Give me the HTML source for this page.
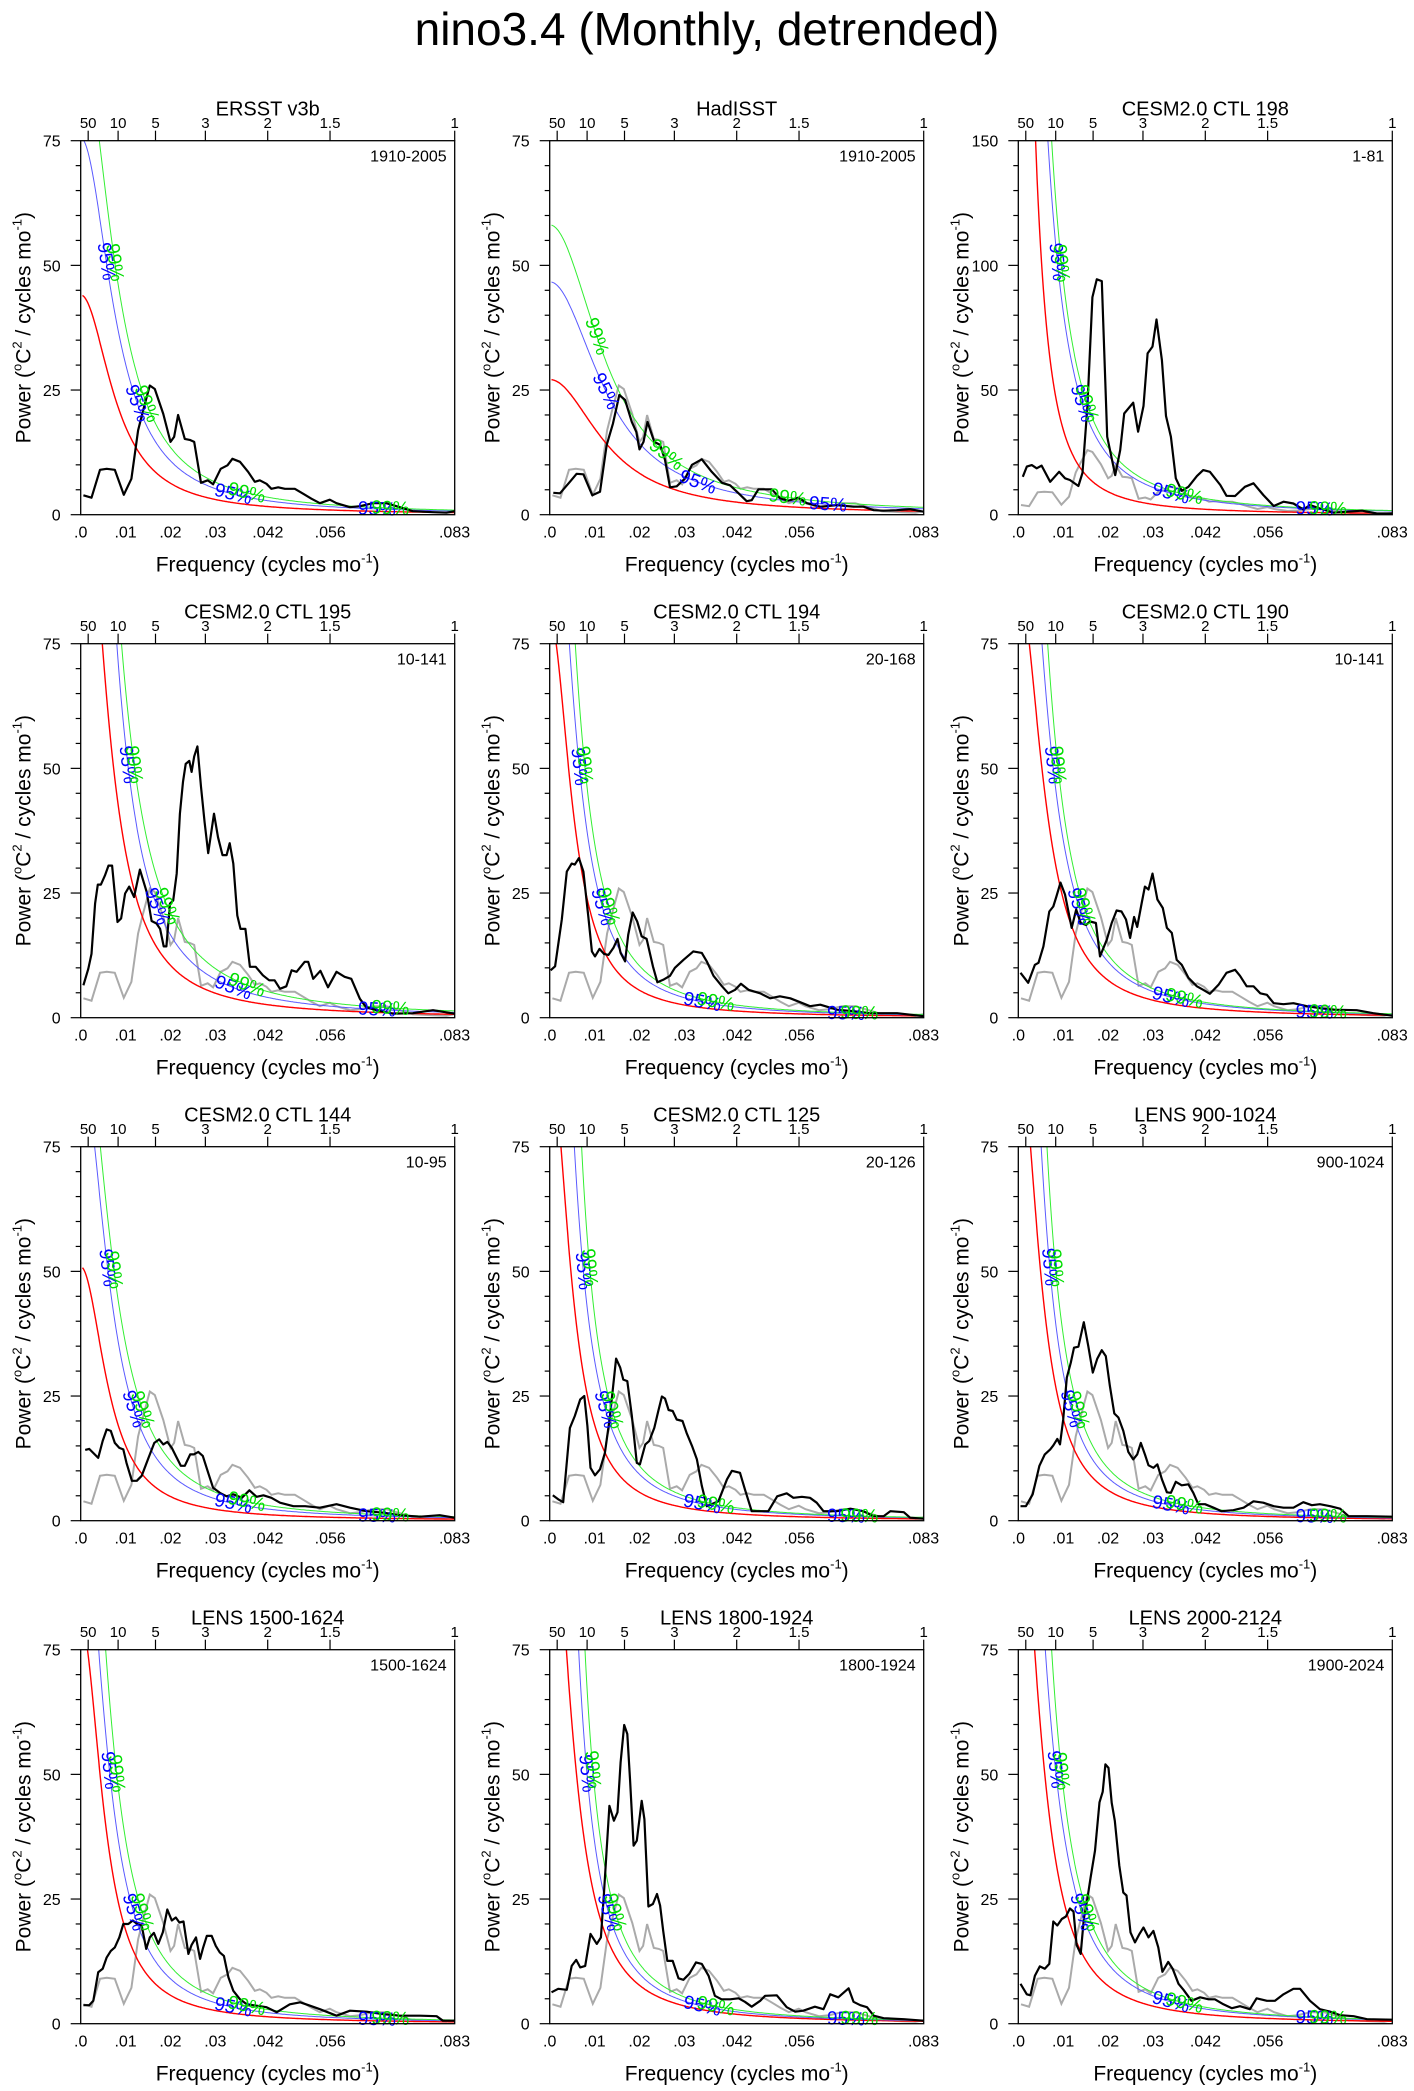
<!DOCTYPE html>
<html><head><meta charset="utf-8">
<style>
html,body{margin:0;padding:0;background:#fff;}
svg{display:block;font-family:"Liberation Sans",sans-serif;}
</style></head>
<body>
<svg id="fig" width="1414" height="2091" viewBox="0 0 1414 2091" xmlns="http://www.w3.org/2000/svg">
<rect x="0" y="0" width="1414" height="2091" fill="#fff"/>
<text x="707" y="45" font-size="46" text-anchor="middle">nino3.4 (Monthly, detrended)</text>
</svg>
<script>
// ---- data ----
const titles=["ERSST v3b","HadISST","CESM2.0 CTL 198","CESM2.0 CTL 195","CESM2.0 CTL 194","CESM2.0 CTL 190","CESM2.0 CTL 144","CESM2.0 CTL 125","LENS 900-1024","LENS 1500-1624","LENS 1800-1924","LENS 2000-2124"];
const periodsLabel=["1910-2005","1910-2005","1-81","10-141","20-168","10-141","10-95","20-126","900-1024","1500-1624","1800-1924","1900-2024"];
const yMax=[75,75,150,75,75,75,75,75,75,75,75,75];
const xTickVals=[0,0.01,0.02,0.03,0.0417,0.0556,0.0833];
const xTickLabels=[".0",".01",".02",".03",".042",".056",".083"];
const topPeriods=[50,10,5,3,2,1.5,1];
const topPeriodLabels=["50","10","5","3","2","1.5","1"];

const freq1=[0.0006,0.0024,0.0043,0.0058,0.0076,0.0096,0.0113,0.0128,0.0139,0.0154,0.0165,0.0184,0.0200,0.0208,0.0217,0.0232,0.0243,0.0253,0.0268,0.0283,0.0295,0.0312,0.0327,0.0338,0.0355,0.0373,0.0388,0.0399,0.0414,0.0425,0.0440,0.0455,0.0477,0.0496,0.0514,0.0533,0.0555,0.0570,0.0600,0.0622,0.0651,0.0681,0.0711,0.0740,0.0785,0.0815,0.0833];
const pow1=[3.9,3.4,9.0,9.2,9.0,4.0,7.2,16.9,20.9,25.9,25.2,20.2,14.6,15.6,20.0,15.2,15.0,14.6,6.4,6.9,6.1,9.2,9.9,11.2,10.6,8.6,6.6,6.9,6.2,5.2,5.5,5.2,5.2,4.2,3.2,2.3,3.0,2.3,1.5,1.7,2.3,2.3,1.5,0.7,0.5,0.4,0.7];

const freq2=[0.0008,0.0023,0.0045,0.0060,0.0075,0.0095,0.0112,0.0127,0.0141,0.0155,0.0168,0.0183,0.0193,0.0200,0.0209,0.0218,0.0233,0.0246,0.0257,0.0268,0.0283,0.0302,0.0317,0.0339,0.0361,0.0384,0.0402,0.0421,0.0439,0.0450,0.0465,0.0476,0.0495,0.0513,0.0532,0.0554,0.0573,0.0603,0.0640,0.0677,0.0699,0.0722,0.0744,0.0773,0.0803,0.0833];
const pow2=[4.4,4.3,6.6,8.2,8.1,3.9,4.6,14.0,18.3,24.0,23.0,18.6,16.6,13.1,14.6,18.6,14.6,14.0,11.0,5.5,5.7,7.3,10.0,11.1,8.6,6.4,5.9,4.3,2.7,2.9,5.1,5.1,5.1,3.3,2.8,3.4,2.3,1.6,1.9,1.6,1.6,0.9,0.8,0.9,1.1,0.6];

const freq3=[0.0010,0.0019,0.0030,0.0041,0.0052,0.0071,0.0091,0.0104,0.0115,0.0134,0.0143,0.0154,0.0165,0.0175,0.0186,0.0198,0.0216,0.0227,0.0236,0.0256,0.0267,0.0279,0.0288,0.0299,0.0308,0.0320,0.0329,0.0340,0.0351,0.0364,0.0379,0.0398,0.0412,0.0427,0.0450,0.0464,0.0483,0.0505,0.0524,0.0546,0.0569,0.0591,0.0613,0.0635,0.0650,0.0672,0.0702,0.0732,0.0766,0.0799,0.0833];
const pow3=[15.2,19.3,19.9,18.6,19.7,13.2,17.2,14.6,13.9,11.5,16.8,43.3,87.2,94.4,93.7,31.3,15.9,25.9,40.6,44.9,33.3,43.6,64.7,67.4,78.3,62.0,39.6,31.3,14.6,9.6,11.2,15.5,17.9,17.2,11.9,7.6,7.5,11.2,12.6,7.9,3.5,5.2,4.5,2.1,3.9,2.5,0.8,1.2,1.6,0.5,0.5];

const freq4=[0.0006,0.0017,0.0024,0.0032,0.0038,0.0045,0.0054,0.0062,0.0070,0.0082,0.0090,0.0099,0.0108,0.0119,0.0132,0.0147,0.0158,0.0169,0.0177,0.0185,0.0191,0.0199,0.0206,0.0214,0.0221,0.0228,0.0234,0.0242,0.0247,0.0253,0.0260,0.0268,0.0276,0.0284,0.0297,0.0306,0.0316,0.0325,0.0332,0.0340,0.0349,0.0356,0.0367,0.0377,0.0390,0.0406,0.0420,0.0432,0.0444,0.0458,0.0470,0.0481,0.0499,0.0507,0.0518,0.0534,0.0551,0.0570,0.0588,0.0603,0.0622,0.0636,0.0659,0.0696,0.0740,0.0785,0.0833];
const pow4=[6.5,9.8,12.8,22.9,26.7,26.7,28.5,30.5,30.5,19.2,19.9,24.9,26.3,24.2,29.7,25.2,19.4,18.9,17.8,14.3,14.3,22.9,23.5,28.9,40.9,47.3,50.9,51.5,49.3,52.4,54.4,46.3,39.2,33.0,40.9,36.2,32.6,32.6,35.0,30.9,20.5,17.8,17.8,10.2,10.2,8.5,7.5,7.5,5.8,6.3,9.5,9.2,11.2,11.2,7.8,9.4,6.1,9.2,8.2,7.8,3.8,2.1,1.5,0.8,0.9,1.5,0.8];

const freq5=[0.0002,0.0012,0.0027,0.0038,0.0049,0.0056,0.0065,0.0075,0.0086,0.0094,0.0101,0.0111,0.0121,0.0131,0.0142,0.0151,0.0158,0.0168,0.0175,0.0185,0.0195,0.0205,0.0216,0.0230,0.0240,0.0253,0.0268,0.0279,0.0298,0.0320,0.0339,0.0350,0.0365,0.0384,0.0398,0.0413,0.0426,0.0443,0.0469,0.0491,0.0513,0.0536,0.0558,0.0580,0.0603,0.0640,0.0677,0.0714,0.0774,0.0833];
const pow5=[9.5,10.3,19.7,29.3,30.9,30.7,32.0,29.3,20.3,13.3,12.3,13.8,12.8,12.6,14.0,15.8,13.0,11.3,16.6,21.1,19.3,16.3,15.8,10.3,7.1,7.6,8.4,10.0,11.6,13.3,13.0,11.3,8.4,6.3,4.9,5.6,6.8,5.6,4.9,3.9,4.3,3.9,3.1,2.3,2.6,1.6,1.3,0.9,0.9,0.3];

const freq6=[0.0005,0.0022,0.0037,0.0045,0.0056,0.0069,0.0078,0.0085,0.0094,0.0104,0.0119,0.0129,0.0139,0.0151,0.0160,0.0173,0.0182,0.0197,0.0208,0.0219,0.0230,0.0240,0.0249,0.0258,0.0265,0.0275,0.0282,0.0290,0.0299,0.0310,0.0322,0.0331,0.0342,0.0353,0.0364,0.0379,0.0398,0.0412,0.0427,0.0446,0.0464,0.0483,0.0494,0.0509,0.0524,0.0539,0.0554,0.0569,0.0591,0.0613,0.0643,0.0672,0.0702,0.0754,0.0791,0.0833];
const pow6=[9.0,7.0,10.6,11.0,14.3,21.3,22.3,24.3,27.1,24.7,18.0,21.7,19.0,18.6,19.3,19.0,12.3,15.6,19.0,21.5,21.3,19.7,16.0,20.2,18.2,23.0,26.3,25.7,28.9,23.7,22.0,18.0,17.0,11.6,10.6,8.0,6.3,5.6,4.8,6.6,9.0,9.6,8.4,6.3,6.3,4.9,4.6,2.9,2.7,2.9,2.3,1.9,1.6,1.5,0.9,0.4];

const freq7=[0.0010,0.0019,0.0039,0.0049,0.0058,0.0067,0.0076,0.0086,0.0095,0.0102,0.0114,0.0125,0.0136,0.0151,0.0164,0.0175,0.0184,0.0193,0.0203,0.0212,0.0223,0.0232,0.0244,0.0252,0.0262,0.0272,0.0284,0.0295,0.0310,0.0325,0.0340,0.0359,0.0376,0.0392,0.0407,0.0425,0.0444,0.0474,0.0500,0.0533,0.0570,0.0600,0.0637,0.0675,0.0712,0.0756,0.0800,0.0833];
const pow7=[14.2,14.4,12.6,16.0,18.3,18.0,15.6,14.6,14.3,11.6,8.0,8.0,9.0,12.6,15.6,16.3,15.3,15.8,14.6,13.0,11.0,11.0,13.3,13.3,13.8,13.0,9.6,6.6,5.6,4.9,5.3,4.6,6.1,4.8,5.1,4.6,3.6,2.9,2.9,2.6,3.3,2.6,1.9,1.6,1.1,0.8,1.1,0.6];

const freq8=[0.0007,0.0019,0.0030,0.0045,0.0056,0.0068,0.0077,0.0084,0.0091,0.0101,0.0112,0.0123,0.0134,0.0148,0.0157,0.0164,0.0173,0.0183,0.0194,0.0201,0.0213,0.0222,0.0233,0.0242,0.0250,0.0257,0.0265,0.0274,0.0283,0.0296,0.0305,0.0317,0.0328,0.0339,0.0350,0.0361,0.0376,0.0395,0.0406,0.0424,0.0435,0.0450,0.0469,0.0487,0.0507,0.0528,0.0543,0.0562,0.0580,0.0595,0.0610,0.0640,0.0670,0.0699,0.0722,0.0744,0.0759,0.0789,0.0803,0.0833];
const pow8=[5.1,4.3,3.7,18.6,21.0,24.3,25.0,19.0,10.6,9.1,10.3,13.6,20.7,32.5,30.7,28.3,28.0,21.1,11.6,11.3,15.3,16.0,18.6,22.0,24.9,24.5,22.2,22.0,20.3,20.0,17.6,15.0,12.3,7.0,2.9,3.3,3.9,8.3,10.0,9.6,6.3,1.9,1.9,1.9,4.9,5.5,4.6,4.8,4.6,3.6,1.9,1.9,2.4,1.9,0.9,0.9,1.9,1.7,0.6,0.4];

const freq9=[0.0005,0.0017,0.0032,0.0047,0.0059,0.0071,0.0078,0.0087,0.0093,0.0100,0.0108,0.0117,0.0124,0.0134,0.0146,0.0156,0.0166,0.0176,0.0186,0.0195,0.0204,0.0214,0.0223,0.0234,0.0245,0.0256,0.0265,0.0273,0.0282,0.0290,0.0301,0.0310,0.0320,0.0331,0.0340,0.0351,0.0364,0.0379,0.0390,0.0401,0.0416,0.0435,0.0453,0.0479,0.0502,0.0524,0.0546,0.0569,0.0591,0.0613,0.0635,0.0654,0.0672,0.0695,0.0717,0.0736,0.0777,0.0833];
const pow9=[2.9,2.9,5.3,11.0,13.3,14.3,15.1,16.4,15.3,20.3,28.7,31.7,34.7,34.9,39.8,35.0,29.7,32.5,34.2,33.0,27.0,21.5,20.7,18.0,13.8,12.3,13.3,15.6,13.3,11.1,10.6,11.3,8.3,5.7,5.6,7.8,7.1,7.3,5.6,3.3,3.3,2.6,1.9,2.1,2.6,3.9,3.6,2.9,2.6,2.6,3.7,3.1,3.3,2.9,2.4,0.9,0.9,0.8];

const freq10=[0.0006,0.0019,0.0028,0.0039,0.0049,0.0058,0.0067,0.0076,0.0086,0.0095,0.0106,0.0116,0.0126,0.0136,0.0146,0.0154,0.0163,0.0173,0.0183,0.0193,0.0203,0.0212,0.0220,0.0229,0.0240,0.0247,0.0257,0.0266,0.0273,0.0281,0.0292,0.0301,0.0310,0.0319,0.0329,0.0340,0.0355,0.0370,0.0392,0.0414,0.0437,0.0466,0.0489,0.0511,0.0533,0.0570,0.0600,0.0637,0.0675,0.0711,0.0756,0.0793,0.0807,0.0833];
const pow10=[3.7,3.7,4.6,10.3,11.0,13.3,14.6,15.3,17.3,20.0,20.0,20.7,20.0,19.7,15.0,17.3,18.2,16.0,18.3,22.9,20.7,21.3,20.3,20.5,14.0,15.8,17.3,13.0,15.3,17.6,17.6,15.6,14.3,13.6,9.3,6.6,4.9,3.9,3.6,3.3,2.3,3.9,4.3,3.6,2.9,1.6,2.6,2.4,1.9,1.6,1.6,1.5,0.6,0.6];

const freq11=[0.0004,0.0019,0.0038,0.0049,0.0059,0.0068,0.0079,0.0091,0.0105,0.0114,0.0121,0.0133,0.0143,0.0151,0.0158,0.0166,0.0173,0.0179,0.0187,0.0194,0.0205,0.0211,0.0220,0.0230,0.0239,0.0246,0.0253,0.0262,0.0274,0.0287,0.0298,0.0311,0.0326,0.0339,0.0354,0.0368,0.0383,0.0402,0.0421,0.0435,0.0450,0.0469,0.0480,0.0506,0.0528,0.0547,0.0565,0.0591,0.0610,0.0625,0.0643,0.0666,0.0677,0.0692,0.0707,0.0722,0.0744,0.0789,0.0833];
const pow11=[6.3,7.0,6.8,11.6,12.8,11.3,11.6,18.0,16.0,17.3,26.3,43.7,40.7,42.4,52.4,59.9,58.1,49.1,35.7,36.7,44.7,41.0,23.5,24.0,26.0,23.7,18.6,12.6,12.6,9.1,8.8,10.0,12.3,12.0,9.6,5.6,4.9,4.9,5.1,4.4,3.4,4.6,5.6,5.7,3.3,2.4,2.6,3.4,2.9,5.9,5.3,7.1,4.4,3.7,3.3,1.6,1.1,0.9,0.6];

const freq12=[0.0005,0.0019,0.0027,0.0037,0.0048,0.0059,0.0069,0.0078,0.0087,0.0097,0.0106,0.0115,0.0123,0.0130,0.0139,0.0146,0.0154,0.0161,0.0171,0.0181,0.0188,0.0194,0.0201,0.0208,0.0215,0.0225,0.0234,0.0241,0.0250,0.0260,0.0270,0.0279,0.0290,0.0301,0.0312,0.0321,0.0334,0.0344,0.0357,0.0368,0.0386,0.0405,0.0424,0.0438,0.0457,0.0476,0.0494,0.0516,0.0531,0.0554,0.0572,0.0591,0.0613,0.0628,0.0650,0.0672,0.0695,0.0717,0.0747,0.0777,0.0833];
const pow12=[8.0,5.9,5.7,9.6,11.5,11.0,12.0,20.5,19.7,21.0,21.5,23.1,22.5,15.8,14.0,21.0,25.1,29.3,34.7,44.4,46.5,52.0,51.3,44.3,40.7,31.7,26.3,25.7,18.3,16.3,18.0,19.3,17.3,18.6,15.3,10.4,12.4,11.0,8.0,6.8,4.6,5.3,4.9,4.9,3.9,3.1,3.5,2.9,5.1,4.6,4.6,5.9,7.0,7.0,4.6,2.9,2.4,1.7,1.5,0.9,0.8];

// red-noise (Markov) curve parameters: shape constant and value at f=0.02
const redC=[0.00263,0.00696,0.00041,0.0015,0.00116,0.00149,0.00166,0.00103,0.00108,0.0012,0.0012,0.0012];
const redS20=[6.3,8.3,9.2,10.5,5.5,7.5,4.85,5.7,6.1,5.7,7.7,7.6];
const blueC=[0.00263,0.00696,0.00093,0.0012,0.0012,0.00147,0.0018,0.00087,0.00088,0.00143,0.00053,0.0013];
const blueS20=[10.8,14.3,23.8,16.6,8.66,11.2,9.3,9.3,8.6,9.0,10,12];
const greenC=[0.00263,0.00696,0.0008,0.0016,0.00105,0.00115,0.0021,0.00037,0.00069,0.00141,0.0001,0.00086];
const greenS20=[13.5,17.8,27,21,10.4,12.6,12,11,10.5,11.5,12,13.7];

const freqs=[freq1,freq2,freq3,freq4,freq5,freq6,freq7,freq8,freq9,freq10,freq11,freq12];
const pows=[pow1,pow2,pow3,pow4,pow5,pow6,pow7,pow8,pow9,pow10,pow11,pow12];
const grayFreq=freq1, grayPow=pow1;

// ---- drawing ----
const NS="http://www.w3.org/2000/svg";
const svg=document.getElementById('fig');
const colLeft=[80.7,549.7,1018.3], rowTop=[140.7,643.7,1146.7,1649.7];
const W=374,H=374,FMAX=1/12;
function mk(tag,attrs,parent){const e=document.createElementNS(NS,tag);for(const k in attrs)e.setAttribute(k,attrs[k]);(parent||svg).appendChild(e);return e;}
function markov(c,s20,f){const D=c+2*(1-Math.cos(2*Math.PI*f));const D20=c+2*(1-Math.cos(2*Math.PI*0.02));return s20*D20/D;}

for(let p=0;p<12;p++){
  const L=colLeft[p%3],T=rowTop[Math.floor(p/3)],B=T+H,R=L+W,ym=yMax[p];
  const xs=f=>L+f/FMAX*W, ys=v=>B-v/ym*H;
  const g=mk('g',{});
  
  
  const cp=mk('clipPath',{id:'clip'+p},g);
  mk('rect',{x:L,y:T,width:W,height:H},cp);
  const plot=mk('g',{'clip-path':'url(#clip'+p+')'},g);
  
  
  if(p>0){
    const gp=mk('path',{d:grayFreq.map((f,i)=>(i?'L':'M')+xs(f).toFixed(1)+','+ys(grayPow[i]).toFixed(1)).join(''),fill:'none',stroke:'#aaaaaa','stroke-width':2},plot);
    
    
  }
  const curves=[[redC,redS20,'#ff0000',1.4,'red-noise-curve'],[blueC,blueS20,'#5a5aff',1,'confidence-95-curve'],[greenC,greenS20,'#33ee33',1,'confidence-99-curve']];
  curves.forEach(([C,S,col,sw,nm])=>{
    let d='';for(let f=0.0004;f<=FMAX+1e-9;f+=0.0002){const v=Math.min(markov(C[p],S[p],f),ym*1.5);d+=(d?'L':'M')+xs(f).toFixed(1)+','+ys(v).toFixed(1);}
    const e=mk('path',{d:d,fill:'none',stroke:col,'stroke-width':sw},plot);
    
    
  });
  const bp=mk('path',{d:freqs[p].map((f,i)=>(i?'L':'M')+xs(f).toFixed(1)+','+ys(pows[p][i]).toFixed(1)).join(''),fill:'none',stroke:'#000','stroke-width':2.2,'stroke-linejoin':'round'},plot);
  
  
  [[blueC,blueS20,'#0000ff','95%',[0.034,0.066]],[greenC,greenS20,'#00dd00','99%',[0.037,0.069]]].forEach(([C,S,col,txt,fx],k)=>{
    const targets=p==1?[]:[ym*0.68,ym*0.3];
    const fl=[];
    targets.forEach(tv=>{for(let f=0.0004;f<FMAX;f+=0.0001){if(markov(C[p],S[p],f)<=tv){fl.push(f);break;}}});
    fx.forEach(f=>fl.push(f));
    if(p==1){fl.length=0;(k==0?[0.0125,0.033,0.062]:[0.0105,0.026,0.053]).forEach(f=>fl.push(f));}
    fl.forEach(f=>{
      const x=xs(f),y=ys(markov(C[p],S[p],f));
      const x2=xs(f+0.0003),y2=ys(markov(C[p],S[p],f+0.0003));
      const ang=Math.atan2(y2-y,x2-x)*180/Math.PI;
      const t=mk('text',{x:x,y:y+6,'font-size':19,fill:col,'text-anchor':'middle',transform:'rotate('+ang.toFixed(1)+' '+x.toFixed(1)+' '+y.toFixed(1)+')'},g);
      t.textContent=txt;
      
      
    });
  });
  const fr=mk('rect',{x:L,y:T,width:W,height:H,fill:'none',stroke:'#000','stroke-width':1.3},g);
  
  
  const major=ym/3,minor=ym/15;
  for(let v=0;v<=ym+1e-6;v+=minor){
    const isM=Math.abs(v/major-Math.round(v/major))<1e-6;
    const tk=mk('line',{x1:L,x2:L-(isM?10:5),y1:ys(v),y2:ys(v),stroke:'#000','stroke-width':1.2},g);
    
    
    if(isM){const t=mk('text',{x:L-20,y:ys(v)+6,'font-size':16,'text-anchor':'end'},g);t.textContent=String(Math.round(v));
      
      }
  }
  xTickVals.forEach((f,i)=>{
    const t=mk('text',{x:xs(f),y:B+23,'font-size':16,'text-anchor':'middle'},g);t.textContent=xTickLabels[i];
    
    
  });
  topPeriods.forEach((pr,i)=>{
    const x=xs(1/(12*pr));
    const tk=mk('line',{x1:x,x2:x,y1:T,y2:T-10,stroke:'#000','stroke-width':1.2},g);
    
    
    const t=mk('text',{x:x,y:T-12.5,'font-size':15,'text-anchor':'middle'},g);t.textContent=topPeriodLabels[i];
    
    
  });
  const tt=mk('text',{x:L+W/2,y:T-25,'font-size':20,'text-anchor':'middle'},g);tt.textContent=titles[p];
  
  
  const rl=mk('text',{x:R-8,y:T+21,'font-size':16,'text-anchor':'end'},g);rl.textContent=periodsLabel[p];
  
  
  const xt=mk('text',{x:L+W/2,y:B+57,'font-size':21,'text-anchor':'middle'},g);
  xt.innerHTML='Frequency (cycles mo<tspan font-size="13" dy="-9">-1</tspan><tspan dy="9">)</tspan>';
  
  
  const yt=mk('text',{x:0,y:0,'font-size':21,'text-anchor':'middle',transform:'translate('+(L-50)+','+(T+H/2)+') rotate(-90)'},g);
  yt.innerHTML='Power (<tspan font-size="13" dy="-9">o</tspan><tspan dy="9">C</tspan><tspan font-size="13" dy="-9">2</tspan><tspan dy="9"> / cycles mo</tspan><tspan font-size="13" dy="-9">-1</tspan><tspan dy="9">)</tspan>';
  
  
}
</script>
</body></html>
